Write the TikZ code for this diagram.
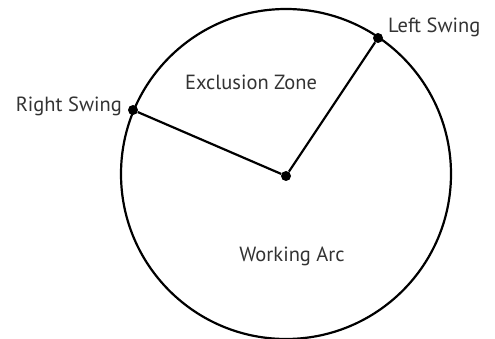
\documentclass[tikz,border=0pt]{standalone}
\usepackage{fontspec}
\setmainfont{PT Sans}
\begin{document}
\begin{tikzpicture}[x=1pt,y=-1pt,
  lbl/.style={inner sep=0pt, text=black!80, font=\fontsize{20.5}{22}\selectfont},
  dot/.style={circle, fill=black, inner sep=0pt, minimum size=10pt},
  edge/.style={line width=2.2pt}]
\useasboundingbox (0,0) rectangle (495,339);
\draw[edge] (286,174) circle (165);
\node[dot] (c) at (286,176) {};
\node[dot] (l) at (378,38) {};
\node[dot] (r) at (133,110) {};
\draw[edge] (r) -- (c) -- (l);
\node[lbl, anchor=base west] (lt) at (388,33) {Left Swing};
\node[lbl, anchor=base east] (rt) at (122,112) {Right Swing};
\node[lbl, anchor=base] (ez) at (251,90) {Exclusion Zone};
\node[lbl, anchor=base] (wa) at (292,261) {Working Arc};
\end{tikzpicture}
\end{document}
